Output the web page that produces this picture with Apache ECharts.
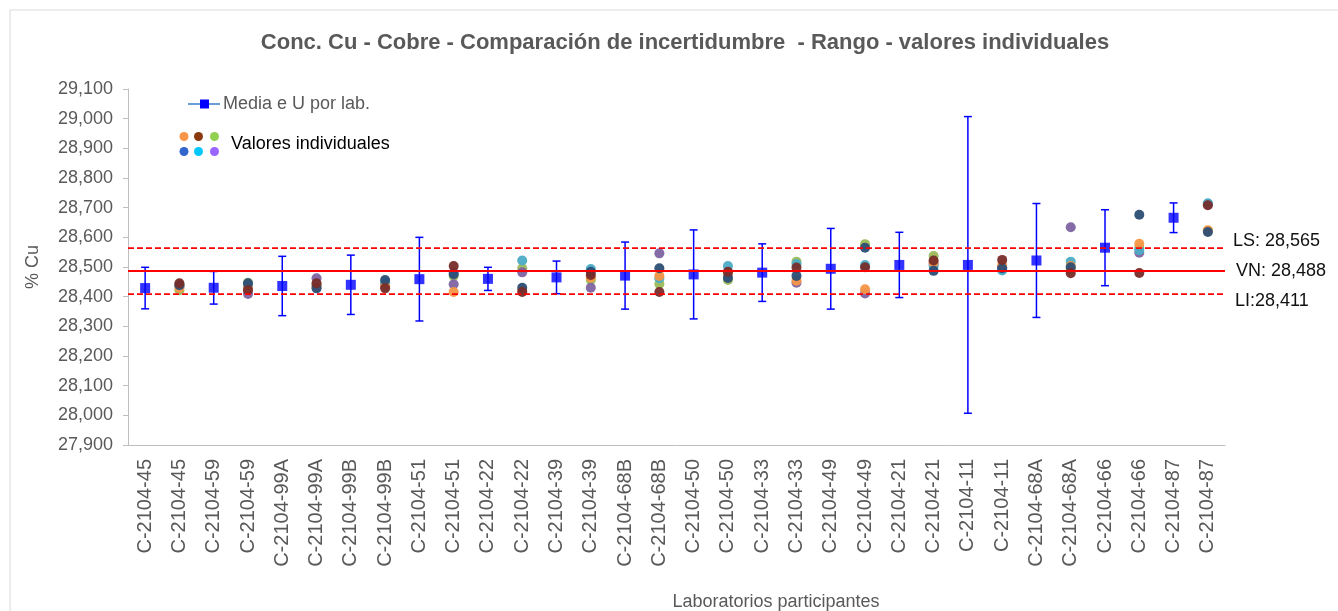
<!DOCTYPE html>
<html>
<head>
<meta charset="utf-8">
<title>Conc. Cu - Cobre</title>
<script src="https://cdn.jsdelivr.net/npm/echarts@6/dist/echarts.min.js"></script>
<style>
  html, body { margin: 0; padding: 0; background: #fff; }
  #chart { width: 1338px; height: 611px; }
</style>
</head>
<body>
<div id="chart"></div>
<script>
// laboratorios participantes (cada uno aparece dos veces en el eje)
var laboratorios = ['C-2104-45', 'C-2104-59', 'C-2104-99A', 'C-2104-99B', 'C-2104-51', 'C-2104-22', 'C-2104-39', 'C-2104-68B',
  'C-2104-50', 'C-2104-33', 'C-2104-49', 'C-2104-21', 'C-2104-11', 'C-2104-68A', 'C-2104-66', 'C-2104-87'];

// media e incertidumbre expandida U por lab.
var medias = [28429, 28430, 28436, 28440, 28459, 28460, 28465, 28471, 28475, 28481, 28494, 28507, 28507, 28522, 28565, 28666];
var incertidumbres = [70, 55, 100, 100, 141, 39, 55, 113, 150, 97, 136, 110, 500, 192, 128, 50];

// valores individuales (una serie por color)
var valoresVerde = [28422, 28447, 28440, 28440, 28470, 28496, 28456, 28443, 28456, 28518, 28577, 28537, 28500, 28490, 28565, 28622];
var valoresMorado = [28437, 28409, 28462, 28438, 28442, 28482, 28430, 28546, 28475, 28447, 28411, 28510, 28498, 28634, 28548, 28712];
var valoresCian = [28435, 28435, 28436, 28445, 28480, 28522, 28493, 28462, 28503, 28510, 28507, 28503, 28488, 28518, 28557, 28715];
var valoresNaranja = [28430, 28428, 28433, 28435, 28416, 28420, 28465, 28470, 28478, 28454, 28425, 28515, 28507, 28503, 28578, 28624];
var valoresAzul = [28439, 28445, 28428, 28456, 28476, 28430, 28484, 28496, 28463, 28470, 28565, 28487, 28496, 28499, 28676, 28618];
var valoresGranate = [28445, 28422, 28445, 28428, 28503, 28416, 28473, 28416, 28484, 28498, 28499, 28522, 28524, 28479, 28480, 28708];

// valor nominal y limites
var VN = 28488;
var LS = 28565;
var LI = 28411;

// ticks del eje y
var yMin = 27900;
var yMax = 29100;
var yPaso = 100;

(function () {
  var dom = document.getElementById('chart');
  var myChart = echarts.init(dom);
  var fuente = "'Liberation Sans', Arial, sans-serif";

  // categorias del eje x: media y valores de cada lab.
  var categorias = [];
  laboratorios.forEach(function (lab) {
    categorias.push(lab, lab);
  });

  var datosMedia = medias.map(function (m, i) { return [2 * i, m]; });
  var datosError = medias.map(function (m, i) { return [2 * i, m - incertidumbres[i], m + incertidumbres[i]]; });

  function serieValores(nombre, valores, color) {
    return {
      name: nombre,
      type: 'scatter',
      symbol: 'circle',
      symbolSize: 10,
      itemStyle: { color: color, opacity: 0.95 },
      data: valores.map(function (v, i) { return [2 * i + 1, v]; }),
      z: 3
    };
  }

  function conComas(v) {
    return String(v).replace(/\B(?=(\d{3})+(?!\d))/g, ',');
  }

  var option = {
    backgroundColor: '#fff',
    animation: false,
    title: {
      text: 'Conc. Cu - Cobre - Comparación de incertidumbre  - Rango - valores individuales',
      left: 680,
      textAlign: 'center',
      top: 27,
      textStyle: { color: '#595959', fontSize: 22, fontWeight: 'bold', fontFamily: fuente }
    },
    grid: {
      left: 128,
      top: 89,
      right: 113,
      bottom: 166
    },
    xAxis: {
      type: 'category',
      data: categorias,
      boundaryGap: true,
      axisLine: { lineStyle: { color: '#bfbfbf', width: 1 } },
      axisTick: { show: false },
      axisLabel: {
        interval: 0,
        rotate: 90,
        margin: 14,
        color: '#595959',
        fontSize: 20,
        fontFamily: fuente
      },
      splitLine: { show: false }
    },
    yAxis: {
      type: 'value',
      min: yMin,
      max: yMax,
      interval: yPaso,
      name: '% Cu',
      nameLocation: 'middle',
      nameGap: 86,
      nameTextStyle: { color: '#595959', fontSize: 18, fontFamily: fuente },
      axisLine: { show: true, lineStyle: { color: '#bfbfbf', width: 1 } },
      axisTick: { show: true, length: 5, lineStyle: { color: '#bfbfbf' } },
      axisLabel: {
        margin: 15,
        color: '#595959',
        fontSize: 18,
        fontFamily: fuente,
        formatter: function (v) { return conComas(v); }
      },
      splitLine: { show: false }
    },
    series: [
      // barras de incertidumbre
      {
        name: 'U',
        type: 'custom',
        encode: { x: 0, y: [1, 2] },
        data: datosError,
        z: 2,
        renderItem: function (params, api) {
          var arriba = api.coord([api.value(0), api.value(2)]);
          var abajo = api.coord([api.value(0), api.value(1)]);
          var w = 4;
          var estilo = { stroke: '#0000ff', lineWidth: 1.5 };
          return {
            type: 'group',
            children: [
              { type: 'line', shape: { x1: arriba[0], y1: arriba[1], x2: abajo[0], y2: abajo[1] }, style: estilo },
              { type: 'line', shape: { x1: arriba[0] - w, y1: arriba[1], x2: arriba[0] + w, y2: arriba[1] }, style: estilo },
              { type: 'line', shape: { x1: abajo[0] - w, y1: abajo[1], x2: abajo[0] + w, y2: abajo[1] }, style: estilo }
            ]
          };
        }
      },
      serieValores('Verde', valoresVerde, '#9bbb59'),
      serieValores('Morado', valoresMorado, '#8064a2'),
      serieValores('Cian', valoresCian, '#4bacc6'),
      serieValores('Naranja', valoresNaranja, '#f79646'),
      serieValores('Azul', valoresAzul, '#2c4d75'),
      serieValores('Granate', valoresGranate, '#772c2a'),
      // media por lab.
      {
        name: 'Media e U por lab.',
        type: 'scatter',
        symbol: 'rect',
        symbolSize: 10,
        itemStyle: { color: '#0000ff' },
        data: datosMedia,
        z: 4
      },
      // VN, LS y LI
      {
        name: 'Referencias',
        type: 'line',
        data: [],
        z: 6,
        markLine: {
          silent: true,
          symbol: ['none', 'none'],
          label: { show: false },
          data: [
            { yAxis: VN, lineStyle: { color: '#ff0000', width: 2, type: 'solid' } },
            { yAxis: LS, lineStyle: { color: '#ff0000', width: 1.75, type: [6, 3] } },
            { yAxis: LI, lineStyle: { color: '#ff0000', width: 1.75, type: [6, 3] } }
          ]
        }
      }
    ]
  };

  if (option && typeof option === 'object') {
    myChart.setOption(option);
  }

  // leyenda, marco y textos de referencia
  var yLS = myChart.convertToPixel({ yAxisIndex: 0 }, LS);
  var yVN = myChart.convertToPixel({ yAxisIndex: 0 }, VN);
  var yLI = myChart.convertToPixel({ yAxisIndex: 0 }, LI);

  var estiloRef = { fill: '#111', fontSize: 18, fontFamily: fuente, textVerticalAlign: 'middle' };
  var puntosLeyenda = [
    [184, 136.5, '#f79646'], [198.5, 136.5, '#8b3a0f'], [214.5, 136.5, '#92d050'],
    [184, 151.5, '#3366cc'], [198.5, 151.5, '#00c8ff'], [214.5, 151.5, '#9966ff']
  ];

  var graficos = [
    { type: 'rect', shape: { x: 10, y: 10, width: 1340, height: 640 }, style: { fill: 'none', stroke: '#d9d9d9', lineWidth: 1 }, z: 0 },
    { type: 'line', shape: { x1: 188, y1: 104, x2: 220, y2: 104 }, style: { stroke: '#6b9bd8', lineWidth: 2 } },
    { type: 'rect', shape: { x: 200, y: 99.5, width: 9, height: 9 }, style: { fill: '#0000ff' } },
    { type: 'text', x: 223, y: 104, style: { text: 'Media e U por lab.', fill: '#595959', fontSize: 18, fontFamily: fuente, textVerticalAlign: 'middle' } },
    { type: 'text', x: 231, y: 144, style: { text: 'Valores individuales', fill: '#000', fontSize: 18, fontFamily: fuente, textVerticalAlign: 'middle' } },
    { type: 'text', x: 776, y: 602, style: { text: 'Laboratorios participantes', fill: '#595959', fontSize: 18, fontFamily: fuente, textAlign: 'center', textVerticalAlign: 'middle' } },
    { type: 'text', x: 1233, y: yLS - 7, style: Object.assign({ text: 'LS: 28,565' }, estiloRef) },
    { type: 'text', x: 1236, y: yVN, style: Object.assign({ text: 'VN: 28,488' }, estiloRef) },
    { type: 'text', x: 1235, y: yLI + 8, style: Object.assign({ text: 'LI:28,411' }, estiloRef) }
  ];
  puntosLeyenda.forEach(function (p) {
    graficos.push({ type: 'circle', shape: { cx: p[0], cy: p[1], r: 4.5 }, style: { fill: p[2] } });
  });

  myChart.setOption({ graphic: graficos });
})();
</script>
</body>
</html>
